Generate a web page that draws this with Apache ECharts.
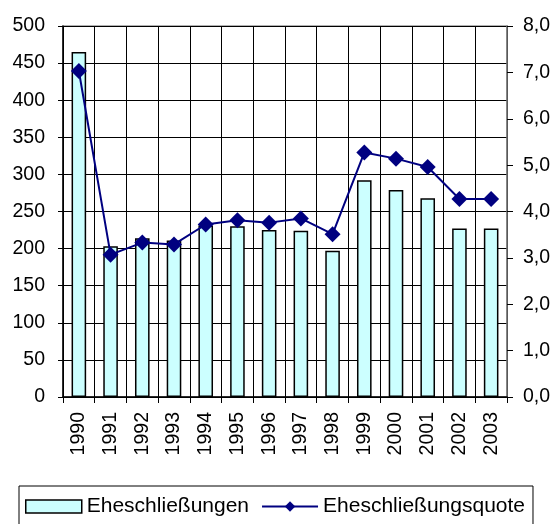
<!DOCTYPE html>
<html><head><meta charset="utf-8">
<script src="https://cdn.jsdelivr.net/npm/echarts@6/dist/echarts.min.js"></script>
<style>html,body{margin:0;padding:0;background:#fff}#c{width:555px;height:524px}</style>
</head><body><div id="c"></div>
<script>
const years = ['1990','1991','1992','1993','1994','1995','1996','1997','1998','1999','2000','2001','2002','2003'];
const marriages = [465, 203, 214, 211, 231, 230, 225, 224, 197, 292, 279, 268, 227, 227];
const marriageRate = [7.03, 3.07, 3.33, 3.29, 3.72, 3.81, 3.76, 3.85, 3.51, 5.27, 5.14, 4.96, 4.27, 4.27];
const leftTicks = {min: 0, max: 500, interval: 50};
const rightTicks = {min: 0, max: 8, interval: 1};

const chart = echarts.init(document.getElementById('c'), null, {renderer: 'canvas'});
const font = 'Liberation Sans, Arial, sans-serif';
chart.setOption({
  animation: false,
  grid: {left: 63, right: 48, top: 26, bottom: 127, show: true, borderColor: '#999', borderWidth: 1.5},
  xAxis: {
    type: 'category', data: years, boundaryGap: true,
    axisLine: {lineStyle: {color: '#000', width: 1.5}},
    axisTick: {show: true, length: 6, lineStyle: {color: '#000'}},
    splitLine: {show: true, lineStyle: {color: '#000', width: 1}},
    axisLabel: {rotate: 90, fontSize: 19.5, color: '#000', fontFamily: font, margin: 15, interval: 0}
  },
  yAxis: [{
    type: 'value', min: leftTicks.min, max: leftTicks.max, interval: leftTicks.interval,
    axisLine: {show: true, lineStyle: {color: '#000', width: 1.5}},
    axisTick: {show: true, length: 5, lineStyle: {color: '#000'}},
    splitLine: {show: true, lineStyle: {color: '#000', width: 1}},
    axisLabel: {fontSize: 19.5, color: '#000', fontFamily: font, margin: 18}
  }, {
    type: 'value', min: rightTicks.min, max: rightTicks.max, interval: rightTicks.interval,
    position: 'right',
    axisLine: {show: true, lineStyle: {color: '#777', width: 1.5}},
    axisTick: {show: true, length: 6, lineStyle: {color: '#000'}},
    splitLine: {show: false},
    axisLabel: {fontSize: 19.5, color: '#000', fontFamily: font, margin: 16,
      formatter: v => v.toFixed(1).replace('.', ',')}
  }],
  legend: {
    left: 19, top: 486, width: 508, height: 30,
    padding: [10, 8, 10, 6],
    borderColor: '#000', borderWidth: 1,
    itemGap: 12, itemWidth: 56, itemHeight: 13,
    textStyle: {fontSize: 21, color: '#000', fontFamily: font},
    data: [
      {name: 'Eheschließungen', icon: 'rect', itemStyle: {color: '#CCFFFF', borderColor: '#000', borderWidth: 1.5}},
      {name: 'Eheschließungsquote'}
    ]
  },
  series: [{
    name: 'Eheschließungen', type: 'bar', data: marriages, yAxisIndex: 0,
    barWidth: '46%',
    itemStyle: {color: '#CCFFFF', borderColor: '#000', borderWidth: 1.5}
  }, {
    name: 'Eheschließungsquote', type: 'line', data: marriageRate, yAxisIndex: 1,
    symbol: 'diamond', symbolSize: 16,
    lineStyle: {color: '#000080', width: 2},
    itemStyle: {color: '#000080'}
  }]
});
</script></body></html>
